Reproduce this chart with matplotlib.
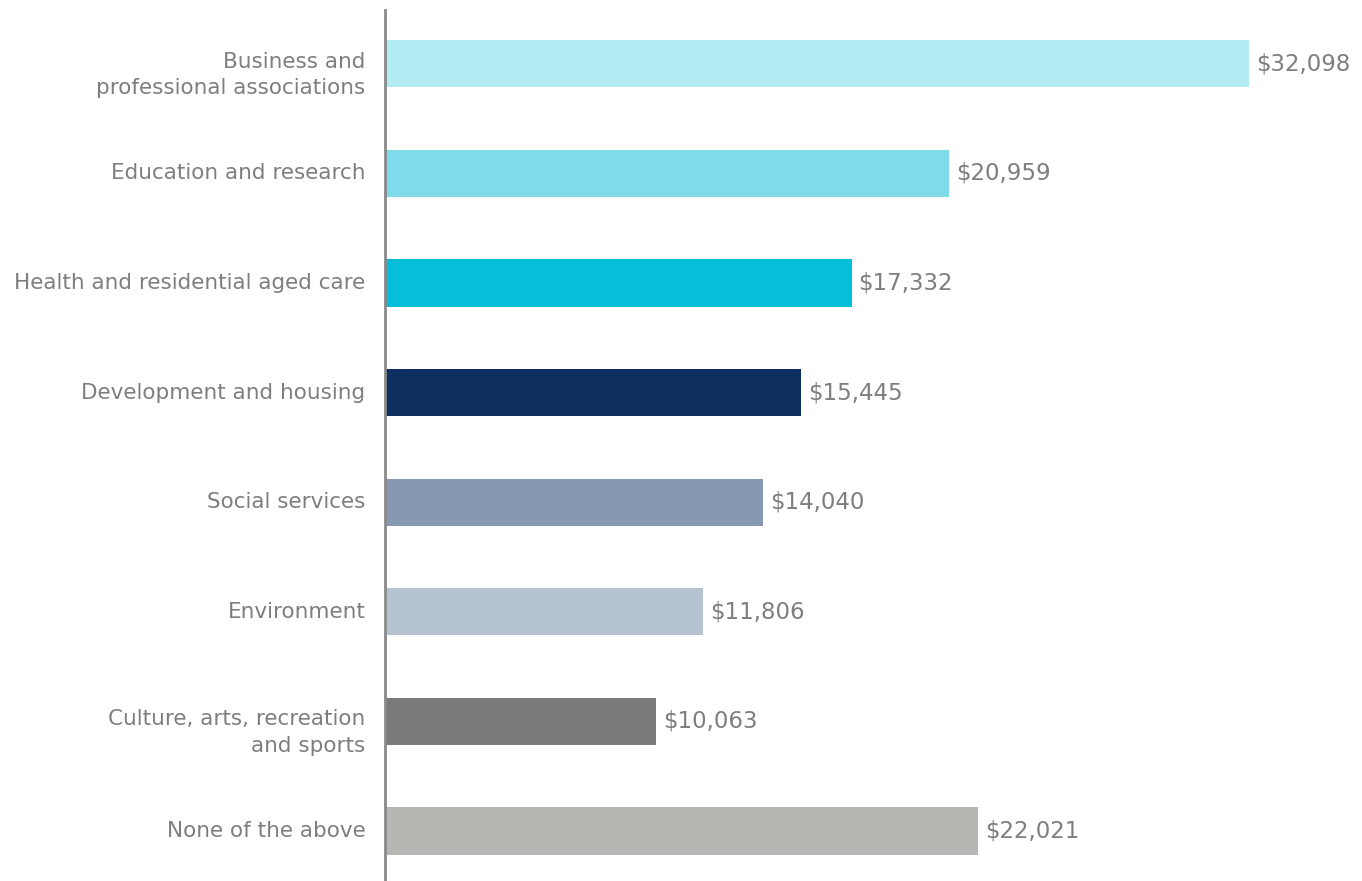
import matplotlib.pyplot as plt
import matplotlib.transforms as mtransforms

categories = [
    "Business and\nprofessional associations",
    "Education and research",
    "Health and residential aged care",
    "Development and housing",
    "Social services",
    "Environment",
    "Culture, arts, recreation\nand sports",
    "None of the above",
]
values = [32098, 20959, 17332, 15445, 14040, 11806, 10063, 22021]
colors = ["#B3ECF2", "#7EDCEA", "#05BED8", "#0E3060",
          "#8799B0", "#B5C3D1", "#7A7B78", "#B5B7B2"]

text_color = "#7E7E7E"
plt.rcParams['font.family'] = ['DejaVu Sans']

fig = plt.figure(figsize=(13.62, 8.81), dpi=100)
ax = fig.add_axes([385 / 1362, 0, 1 - 385 / 1362, 1 - 10 / 881])

pos = list(range(len(categories)))
ax.barh(pos, values, height=0.43, color=colors)

for p, v in zip(pos, values):
    ax.annotate(f"${v:,}", (v, p), xytext=(7, 0), textcoords="offset pixels",
                ha="left", va="center", fontsize=16.5, color=text_color)

ax.set_yticks(pos)
ax.set_yticklabels(categories, fontsize=15.5, color=text_color,
                   linespacing=1.4)
ax.tick_params(axis="y", length=0, pad=14)
ax.set_xticks([])

# two-line labels sit a little below the bar centre, single lines a touch above
for lbl in ax.get_yticklabels():
    dy = -6 if "\n" in lbl.get_text() else 2
    shift = mtransforms.ScaledTranslation(0, dy / 100, fig.dpi_scale_trans)
    lbl.set_transform(lbl.get_transform() + shift)

ax.set_ylim(7.456, -0.49)
ax.set_xlim(0, 36293)

for side in ["top", "right", "bottom"]:
    ax.spines[side].set_visible(False)
ax.spines["left"].set_color("#8A8A8A")
ax.spines["left"].set_linewidth(2)

fig.savefig("out.png", dpi=100)
